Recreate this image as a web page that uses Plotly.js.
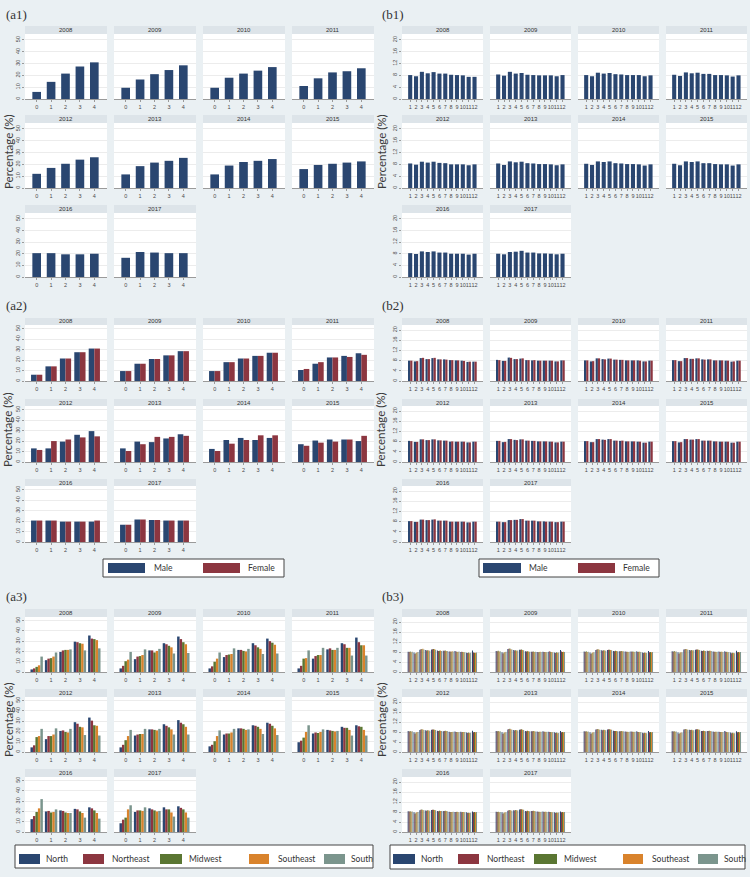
<!DOCTYPE html>
<html>
<head>
<meta charset="utf-8">
<script src="https://cdn.plot.ly/plotly-3.0.1.min.js"></script>
<style>html,body{margin:0;padding:0;background:#eaf0f3;}#chart{width:750px;height:877px;}</style>
</head>
<body>
<div id="chart"></div>
<script>
// ---------------- DATA ----------------
const years = ['2008','2009','2010','2011','2012','2013','2014','2015','2016','2017'];
const ageGroups = [0, 1, 2, 3, 4];
const months = [1,2,3,4,5,6,7,8,9,10,11,12];
const sexNames = ['Male', 'Female'];
const regionNames = ['North', 'Northeast', 'Midwest', 'Southeast', 'South'];

// (a1) total, by year, ages 0..4
const a1Total = [
  [6, 14.5, 21.5, 27.5, 31],
  [9.5, 16.5, 21, 24.5, 28.5],
  [9.5, 18, 21.5, 24, 27],
  [11, 17.5, 22.5, 23.5, 26],
  [12, 17, 20.5, 24, 26],
  [11.5, 18.5, 21.5, 23, 25.5],
  [11.5, 19, 22, 23, 24.5],
  [16, 19.5, 20.5, 21.5, 22.5],
  [20.5, 20.5, 19.5, 19.5, 20],
  [16.5, 21.5, 21, 20.5, 20.5]
];
// (a2) by sex
const a2Male = [
  [6, 14, 21.5, 27.5, 31],
  [9.5, 16.5, 21, 24.5, 28.5],
  [9.5, 18, 21.5, 24, 27],
  [10.5, 16.5, 22.5, 24, 26.5],
  [13, 13, 19.5, 26, 29.5],
  [13, 19.5, 19, 22.5, 26.5],
  [12.5, 21, 23, 21, 23],
  [17, 20.5, 21.5, 21.5, 20],
  [20.5, 20.5, 19.5, 19.5, 19.5],
  [16.5, 21.5, 21, 20.5, 20.5]
];
const a2Female = [
  [6, 14, 21.5, 27.5, 31],
  [9.5, 16.5, 21, 24.5, 28.5],
  [9.5, 18, 21.5, 24, 27],
  [11.5, 18, 22.5, 23, 25],
  [11.5, 20, 21.5, 23.5, 24.5],
  [10.5, 17, 24, 24, 25],
  [10.5, 17.5, 21, 25.5, 25.5],
  [15.5, 18.5, 19.5, 21.5, 25],
  [20.5, 20.5, 19.5, 19.5, 20.5],
  [16.5, 21.5, 21, 20.5, 20.5]
];
// (a3) by region
const a3North = [
  [2.5, 11.5, 19.5, 29.5, 35.5],
  [3.5, 12.5, 21, 28, 34.5],
  [3.5, 14.5, 21.5, 28, 32.5],
  [3.5, 13, 22, 28, 33.5],
  [4.5, 12.5, 20.5, 29, 33.5],
  [4.5, 16, 22, 27, 31],
  [5.5, 17, 23, 26, 28.5],
  [9.5, 18, 21.5, 24.5, 26],
  [12.5, 20, 21, 22.5, 24],
  [8.5, 19.5, 23, 24, 25]
];
const a3Northeast = [
  [3.5, 13, 21, 29, 32.5],
  [6, 15, 21, 27, 32],
  [5.5, 16.5, 21.5, 26, 30],
  [6, 15.5, 23, 27, 29],
  [6.5, 15.5, 21, 27.5, 30.5],
  [7, 17, 22, 25.5, 28.5],
  [7, 18, 23, 25.5, 27.5],
  [11, 19, 21, 23.5, 25],
  [15.5, 20.5, 20.5, 22, 23],
  [12, 21, 22, 22, 23.5]
];
const a3Midwest = [
  [5, 13.5, 21.5, 28, 32],
  [10.5, 15.5, 19, 25.5, 29],
  [10, 17, 20.5, 24, 28.5],
  [13, 16.5, 21.5, 23.5, 26],
  [14.5, 15.5, 19.5, 24.5, 26],
  [11.5, 17.5, 21.5, 24, 27],
  [10.5, 18, 22.5, 24.5, 25.5],
  [14, 18.5, 20.5, 23.5, 24.5],
  [19.5, 19, 19, 20, 21],
  [14, 21, 21, 22, 22]
];
const a3Southeast = [
  [6.5, 15, 21.5, 27.5, 31],
  [12, 16.5, 20.5, 24, 27],
  [13, 17.5, 20, 22.5, 26.5],
  [13.5, 16.5, 21.5, 23.5, 26],
  [15.5, 17, 19, 24, 25.5],
  [15.5, 17.5, 21, 22, 24.5],
  [15.5, 19, 21.5, 22.5, 23],
  [19.5, 19.5, 20, 21.5, 21.5],
  [23, 19.5, 18.5, 18.5, 18.5],
  [22, 20.5, 20, 19, 19]
];
const a3South = [
  [15, 19, 22, 21, 23],
  [19.5, 22, 22.5, 18, 18.5],
  [19, 23, 22.5, 17.5, 18],
  [21, 23.5, 23.5, 16, 16],
  [22.5, 23, 22.5, 16.5, 16],
  [21.5, 22.5, 22.5, 17, 17],
  [21, 22.5, 22, 17.5, 16.5],
  [26, 22, 20.5, 16, 16],
  [32, 22, 18.5, 14, 13],
  [26, 24, 20.5, 15, 14]
];

// (b1) total, by year, months 1..12
const b1Total = [
  [8.1, 7.7, 9.2, 8.7, 9.1, 8.6, 8.6, 8.2, 8.1, 8.0, 7.5, 7.5],
  [8.3, 7.9, 9.2, 8.6, 8.8, 8.2, 8.1, 8.0, 8.0, 8.0, 7.7, 8.1],
  [8.1, 7.7, 8.9, 8.6, 8.8, 8.4, 8.3, 8.1, 8.1, 8.1, 7.7, 8.0],
  [8.2, 7.8, 9.0, 8.7, 8.9, 8.5, 8.5, 8.1, 8.1, 8.0, 7.6, 8.0],
  [8.3, 7.9, 8.9, 8.6, 8.9, 8.5, 8.4, 8.0, 8.0, 8.0, 7.7, 8.0],
  [8.3, 7.8, 9.0, 8.7, 8.9, 8.4, 8.3, 8.1, 8.1, 8.0, 7.7, 8.0],
  [8.2, 7.8, 9.0, 8.8, 9.0, 8.4, 8.3, 8.1, 8.1, 8.0, 7.6, 8.0],
  [8.2, 7.7, 9.0, 8.8, 9.0, 8.4, 8.4, 8.1, 8.0, 8.0, 7.6, 8.0],
  [8.2, 7.9, 8.8, 8.6, 8.8, 8.4, 8.4, 8.0, 8.0, 8.0, 7.7, 8.0],
  [8.0, 7.8, 8.6, 8.7, 9.0, 8.4, 8.4, 8.1, 8.1, 8.0, 7.8, 8.0]
];
// (b2) by sex
const b2Male = [
  [8.0, 7.7, 9.0, 8.6, 9.0, 8.5, 8.5, 8.2, 8.1, 8.0, 7.5, 7.6],
  [8.3, 7.9, 9.2, 8.6, 8.8, 8.2, 8.1, 8.0, 8.0, 8.0, 7.7, 8.1],
  [8.1, 7.7, 8.9, 8.6, 8.8, 8.4, 8.3, 8.1, 8.1, 8.1, 7.7, 8.0],
  [8.2, 7.8, 9.0, 8.7, 8.9, 8.5, 8.5, 8.1, 8.1, 8.0, 7.6, 8.0],
  [8.3, 7.9, 8.9, 8.6, 8.9, 8.5, 8.4, 8.0, 8.0, 8.0, 7.7, 8.0],
  [8.3, 7.8, 9.0, 8.7, 8.9, 8.4, 8.3, 8.1, 8.1, 8.0, 7.7, 8.0],
  [8.2, 7.8, 9.0, 8.8, 9.0, 8.4, 8.3, 8.1, 8.1, 8.0, 7.6, 8.0],
  [8.2, 7.7, 9.0, 8.8, 9.0, 8.4, 8.4, 8.1, 8.0, 8.0, 7.6, 8.0],
  [8.2, 7.9, 8.8, 8.6, 8.8, 8.4, 8.4, 8.0, 8.0, 8.0, 7.7, 8.0],
  [8.0, 7.8, 8.6, 8.7, 9.0, 8.4, 8.4, 8.1, 8.1, 8.0, 7.8, 8.0]
];
const b2Female = [
  [8.0, 7.8, 9.1, 8.6, 9.1, 8.5, 8.4, 8.2, 8.1, 7.9, 7.6, 7.6],
  [8.2, 7.9, 9.1, 8.6, 8.9, 8.2, 8.2, 8.0, 8.0, 8.0, 7.7, 8.1],
  [8.1, 7.8, 8.9, 8.5, 8.8, 8.4, 8.3, 8.1, 8.1, 8.0, 7.7, 8.0],
  [8.2, 7.8, 9.0, 8.7, 8.9, 8.4, 8.5, 8.1, 8.1, 8.0, 7.7, 8.0],
  [8.2, 7.9, 8.9, 8.6, 8.9, 8.5, 8.4, 8.1, 8.0, 8.0, 7.7, 8.0],
  [8.3, 7.9, 9.0, 8.6, 8.9, 8.4, 8.3, 8.1, 8.1, 8.0, 7.7, 8.0],
  [8.2, 7.8, 9.0, 8.7, 9.0, 8.4, 8.4, 8.1, 8.1, 8.0, 7.6, 8.0],
  [8.2, 7.8, 9.0, 8.8, 9.0, 8.4, 8.4, 8.1, 8.0, 8.0, 7.6, 8.0],
  [8.2, 7.9, 8.8, 8.6, 8.9, 8.4, 8.4, 8.0, 8.0, 8.0, 7.7, 8.0],
  [8.0, 7.8, 8.6, 8.7, 9.0, 8.4, 8.4, 8.1, 8.0, 8.0, 7.8, 8.0]
];
// (b3) by region
const b3North = [
  [8.1, 7.8, 8.9, 8.8, 9.0, 8.6, 8.5, 8.2, 8.4, 8.0, 7.7, 8.6],
  [8.4, 7.9, 9.2, 8.8, 8.9, 8.3, 8.1, 8.0, 8.1, 8.1, 7.8, 8.8],
  [8.2, 7.8, 8.8, 8.7, 8.8, 8.4, 8.3, 8.2, 8.2, 8.3, 7.8, 8.4],
  [8.3, 7.9, 9.0, 8.8, 8.9, 8.5, 8.5, 8.2, 8.2, 8.3, 7.8, 8.5],
  [8.4, 7.9, 8.8, 8.7, 8.9, 8.5, 8.3, 8.1, 8.2, 8.1, 7.8, 8.5],
  [8.4, 7.9, 9.0, 8.8, 8.9, 8.4, 8.3, 8.2, 8.3, 8.1, 7.9, 8.4],
  [8.3, 7.9, 9.0, 8.9, 9.0, 8.5, 8.3, 8.2, 8.2, 8.3, 7.7, 8.4],
  [8.3, 7.8, 9.0, 8.9, 9.0, 8.4, 8.4, 8.2, 8.1, 8.4, 7.8, 8.3],
  [8.3, 7.9, 8.7, 8.6, 8.8, 8.4, 8.4, 8.1, 8.0, 8.1, 7.9, 8.2],
  [8.1, 7.9, 8.5, 8.7, 9.0, 8.4, 8.4, 8.2, 8.2, 8.1, 7.9, 8.2]
];
const b3Northeast = [
  [8.0, 7.2, 9.1, 8.6, 9.1, 8.4, 8.5, 8.2, 8.2, 8.1, 7.6, 7.8],
  [8.3, 7.4, 9.3, 8.6, 8.9, 8.2, 8.1, 7.9, 8.0, 8.3, 7.6, 8.2],
  [8.0, 7.2, 9.0, 8.5, 8.9, 8.3, 8.3, 8.1, 8.1, 8.0, 7.6, 7.9],
  [8.1, 7.3, 9.1, 8.6, 9.0, 8.4, 8.4, 8.1, 8.0, 8.0, 7.5, 7.9],
  [8.2, 7.3, 9.0, 8.5, 9.0, 8.4, 8.4, 7.9, 8.0, 7.9, 7.6, 7.9],
  [8.3, 7.2, 9.2, 8.6, 9.0, 8.3, 8.3, 8.0, 8.1, 8.0, 7.6, 7.9],
  [8.2, 7.2, 9.1, 8.7, 9.1, 8.4, 8.3, 8.1, 8.1, 8.0, 7.5, 7.9],
  [8.2, 7.2, 9.1, 8.8, 9.1, 8.4, 8.4, 8.0, 8.0, 8.1, 7.5, 7.9],
  [8.2, 7.3, 8.9, 8.5, 8.9, 8.3, 8.4, 8.0, 8.0, 7.9, 7.6, 7.9],
  [8.0, 7.3, 8.7, 8.6, 9.1, 8.3, 8.4, 8.1, 8.0, 8.0, 7.6, 7.9]
];
const b3Midwest = [
  [8.2, 7.6, 9.2, 8.7, 9.2, 8.5, 8.6, 8.1, 8.1, 8.0, 7.8, 7.7],
  [8.5, 7.8, 9.4, 8.7, 9.0, 8.3, 8.2, 8.0, 8.0, 8.0, 7.9, 8.0],
  [8.3, 7.6, 9.1, 8.7, 8.9, 8.5, 8.4, 8.1, 8.2, 8.1, 7.8, 8.0],
  [8.4, 7.8, 9.2, 8.8, 9.0, 8.6, 8.5, 8.1, 8.1, 8.1, 7.7, 8.0],
  [8.4, 7.8, 9.1, 8.7, 9.0, 8.6, 8.5, 8.0, 8.0, 8.0, 7.8, 8.0],
  [8.4, 7.7, 9.3, 8.8, 9.1, 8.5, 8.4, 8.1, 8.1, 8.0, 7.8, 8.0],
  [8.3, 7.7, 9.2, 8.9, 9.1, 8.4, 8.4, 8.1, 8.1, 8.0, 7.7, 8.0],
  [8.3, 7.6, 9.2, 8.9, 9.1, 8.5, 8.5, 8.1, 8.0, 8.0, 7.7, 8.0],
  [8.3, 7.7, 9.0, 8.7, 8.9, 8.5, 8.5, 8.0, 8.1, 8.0, 7.7, 8.0],
  [8.1, 7.7, 8.8, 8.8, 9.1, 8.5, 8.5, 8.1, 8.1, 8.0, 7.8, 8.0]
];
const b3Southeast = [
  [7.9, 7.9, 9.3, 8.6, 9.1, 8.6, 8.4, 8.3, 8.0, 7.9, 7.5, 7.7],
  [8.2, 8.0, 9.1, 8.5, 8.8, 8.2, 8.0, 8.1, 7.9, 8.0, 7.7, 8.1],
  [8.0, 7.9, 9.0, 8.6, 8.8, 8.4, 8.3, 8.0, 8.0, 8.1, 7.7, 7.9],
  [8.1, 7.9, 9.1, 8.6, 8.9, 8.5, 8.5, 8.0, 8.1, 7.9, 7.6, 7.9],
  [8.2, 8.0, 9.0, 8.6, 8.9, 8.5, 8.4, 8.0, 7.9, 8.0, 7.6, 7.9],
  [8.2, 7.9, 9.1, 8.7, 8.9, 8.4, 8.3, 8.1, 8.0, 7.9, 7.5, 7.9],
  [8.1, 7.9, 9.0, 8.8, 9.0, 8.4, 8.3, 8.0, 8.0, 7.9, 7.6, 7.9],
  [8.1, 7.8, 9.0, 8.7, 9.0, 8.4, 8.4, 8.1, 8.0, 7.9, 7.5, 7.9],
  [8.1, 8.0, 8.8, 8.6, 8.8, 8.4, 8.4, 8.0, 8.0, 8.0, 7.6, 7.9],
  [7.9, 7.9, 8.6, 8.7, 9.0, 8.4, 8.4, 8.0, 8.1, 7.9, 7.7, 7.9]
];
const b3South = [
  [8.1, 8.0, 9.0, 8.5, 8.9, 8.4, 8.4, 8.2, 8.2, 7.9, 7.7, 7.8],
  [8.3, 8.1, 9.0, 8.6, 8.7, 8.1, 8.1, 8.0, 8.0, 7.9, 7.8, 8.0],
  [8.1, 7.9, 8.8, 8.5, 8.7, 8.3, 8.3, 8.1, 8.1, 8.0, 7.6, 8.0],
  [8.2, 7.9, 8.9, 8.7, 8.8, 8.4, 8.4, 8.1, 8.0, 8.0, 7.5, 8.0],
  [8.3, 8.0, 8.8, 8.5, 8.8, 8.4, 8.4, 8.1, 8.0, 8.0, 7.7, 8.0],
  [8.3, 7.9, 8.9, 8.6, 8.8, 8.3, 8.2, 8.1, 8.1, 8.0, 7.6, 8.0],
  [8.2, 7.9, 8.9, 8.7, 8.9, 8.3, 8.3, 8.1, 8.1, 8.0, 7.5, 8.0],
  [8.2, 7.8, 8.9, 8.7, 8.9, 8.3, 8.3, 8.1, 8.0, 7.9, 7.5, 8.0],
  [8.2, 8.0, 8.7, 8.5, 8.7, 8.4, 8.3, 8.1, 7.9, 7.9, 7.7, 8.0],
  [8.0, 7.9, 8.5, 8.6, 8.9, 8.3, 8.3, 8.1, 8.0, 7.9, 7.8, 8.0]
];

// ---------------- STYLE / LAYOUT ----------------
const W = 750, H = 877;
const px = v => v / W;
const py = v => 1 - v / H;
const navy = '#2a4670', maroon = '#8c3640', green = '#5a7632', orange = '#d9832c', teal = '#7b958d';
const sexColors = [navy, maroon];
const regionColors = [navy, maroon, green, orange, teal];
const tickFont = {family: 'Liberation Sans, Arial, sans-serif', size: 5.5, color: '#4a4a4a'};
const textFont = 'Lato, "Open Sans", sans-serif';

const bands = [
  {tops: [26, 115, 205], bottoms: [99, 188, 277], hh: 8, titleY: 152},
  {tops: [318, 399, 479], bottoms: [381, 462, 542], hh: 7, titleY: 430},
  {tops: [609, 689, 769], bottoms: [672, 752, 832], hh: 8, titleY: 720}
];
const sides = [
  {lefts: [25, 114, 203, 292], w: 82, labelX: 4, titleX: 8},
  {lefts: [402, 490, 578, 666], w: 81, labelX: 380, titleX: 381}
];

const panels = [
  {label: '(a1)', side: 0, band: 0, cats: ageGroups, series: [a1Total], names: ['Total'], colors: [navy], group: 0.6, xr: [-0.81, 4.88], yMax: 55, ticks: [0,10,20,30,40,50]},
  {label: '(a2)', side: 0, band: 1, cats: ageGroups, series: [a2Male, a2Female], names: sexNames, colors: sexColors, group: 0.78, xr: [-0.81, 4.88], yMax: 53.5, ticks: [0,10,20,30,40,50]},
  {label: '(a3)', side: 0, band: 2, cats: ageGroups, series: [a3North, a3Northeast, a3Midwest, a3Southeast, a3South], names: regionNames, colors: regionColors, group: 0.86, xr: [-0.81, 4.88], yMax: 53.5, ticks: [0,10,20,30,40,50]},
  {label: '(b1)', side: 1, band: 0, cats: months, series: [b1Total], names: ['Total'], colors: [navy], group: 0.7, xr: [-0.4, 13.45], yMax: 22, ticks: [0,4,8,12,16,20]},
  {label: '(b2)', side: 1, band: 1, cats: months, series: [b2Male, b2Female], names: sexNames, colors: sexColors, group: 0.76, xr: [-0.4, 13.45], yMax: 22, ticks: [0,4,8,12,16,20]},
  {label: '(b3)', side: 1, band: 2, cats: months, series: [b3North, b3Northeast, b3Midwest, b3Southeast, b3South], names: regionNames, colors: regionColors, group: 0.86, xr: [-0.4, 13.45], yMax: 22, ticks: [0,4,8,12,16,20]}
];

const traces = [];
const layout = {
  width: W, height: H, autosize: false,
  margin: {l: 0, r: 0, t: 0, b: 0, pad: 0},
  paper_bgcolor: '#eaf0f3', plot_bgcolor: '#ffffff',
  barmode: 'overlay', showlegend: false,
  shapes: [], annotations: []
};

let n = 0;
panels.forEach(p => {
  const side = sides[p.side], band = bands[p.band];
  // panel label
  layout.annotations.push({text: p.label, xref: 'paper', yref: 'paper', x: px(side.labelX), y: py(band.tops[0] - 11 - (p.band === 0 ? 0 : 2)),
    xanchor: 'left', yanchor: 'middle', showarrow: false, font: {family: 'Liberation Serif, serif', size: 13, color: '#333'}});
  // y title
  layout.annotations.push({text: 'Percentage (%)', xref: 'paper', yref: 'paper', x: px(side.titleX), y: py(band.titleY),
    xanchor: 'center', yanchor: 'middle', textangle: -90, showarrow: false, font: {family: textFont, size: 11.5, color: '#3a3a3a'}});

  years.forEach((yr, i) => {
    n++;
    const row = Math.floor(i / 4), col = i % 4;
    const left = side.lefts[col], top = band.tops[row], bottom = band.bottoms[row];
    const xa = 'xaxis' + (n === 1 ? '' : n), ya = 'yaxis' + (n === 1 ? '' : n);
    const xr = 'x' + (n === 1 ? '' : n), yr2 = 'y' + (n === 1 ? '' : n);
    layout[xa] = {
      domain: [px(left), px(left + side.w)], anchor: yr2, range: p.xr,
      tickmode: 'array', tickvals: p.cats, ticktext: p.cats.map(String), tickangle: 0,
      showline: true, linecolor: '#9a9a9a', linewidth: 1, ticks: 'outside', ticklen: 2, tickcolor: '#9a9a9a',
      tickfont: tickFont, showgrid: false, zeroline: false, fixedrange: true
    };
    layout[ya] = {
      domain: [py(bottom), py(top + band.hh)], anchor: xr, range: [0, p.yMax],
      tickmode: 'array', tickvals: p.ticks, ticktext: p.ticks.map(String), tickangle: -90,
      showticklabels: col === 0, ticks: col === 0 ? 'outside' : '', ticklen: 2, tickcolor: '#9a9a9a',
      tickfont: tickFont, showgrid: true, gridcolor: '#ececec', gridwidth: 1,
      showline: false, zeroline: false, fixedrange: true
    };
    // header strip
    layout.shapes.push({type: 'rect', xref: 'paper', yref: 'paper', x0: px(left), x1: px(left + side.w),
      y0: py(top + band.hh), y1: py(top), fillcolor: '#dde4e9', line: {width: 0}, layer: 'below'});
    layout.annotations.push({text: yr, xref: 'paper', yref: 'paper', x: px(left + side.w / 2), y: py(top + band.hh / 2),
      xanchor: 'center', yanchor: 'middle', showarrow: false, font: {family: 'Liberation Sans, Arial, sans-serif', size: 6, color: '#333'}});
    // bars
    const k = p.series.length, bw = p.group / k;
    p.series.forEach((s, j) => {
      traces.push({
        type: 'bar', x: p.cats, y: s[i], name: p.names[j], xaxis: xr, yaxis: yr2,
        width: bw, offset: -p.group / 2 + j * bw,
        marker: {color: p.colors[j], line: {width: 0}}, hoverinfo: 'x+y+name'
      });
    });
  });
});

// legends (boxes drawn with shapes, labels as annotations)
function addLegend(box, items) {
  layout.shapes.push({type: 'rect', xref: 'paper', yref: 'paper', x0: px(box[0]), x1: px(box[1]), y0: py(box[3]), y1: py(box[2]),
    fillcolor: '#ffffff', line: {color: '#444', width: 1}});
  items.forEach(it => {
    layout.shapes.push({type: 'rect', xref: 'paper', yref: 'paper', x0: px(it.s0), x1: px(it.s1), y0: py(it.y1), y1: py(it.y0),
      fillcolor: it.color, line: {width: 0}});
    layout.annotations.push({text: it.text, xref: 'paper', yref: 'paper', x: px(it.tx), y: py((it.y0 + it.y1) / 2),
      xanchor: 'left', yanchor: 'middle', showarrow: false, font: {family: textFont, size: 8.5, color: '#333'}});
  });
}
addLegend([103, 284, 559, 577], [
  {s0: 108, s1: 145, y0: 563, y1: 573, tx: 152, text: sexNames[0], color: sexColors[0]},
  {s0: 203, s1: 240, y0: 563, y1: 573, tx: 246, text: sexNames[1], color: sexColors[1]}
]);
addLegend([479, 659, 559, 577], [
  {s0: 483, s1: 521, y0: 563, y1: 573, tx: 527, text: sexNames[0], color: sexColors[0]},
  {s0: 578, s1: 615, y0: 563, y1: 573, tx: 621, text: sexNames[1], color: sexColors[1]}
]);
addLegend([15, 373, 845, 868], [
  {s0: 19, s1: 40, y0: 854, y1: 864, tx: 44, text: regionNames[0], color: regionColors[0]},
  {s0: 83, s1: 104, y0: 854, y1: 864, tx: 110, text: regionNames[1], color: regionColors[1]},
  {s0: 160, s1: 182, y0: 854, y1: 864, tx: 187, text: regionNames[2], color: regionColors[2]},
  {s0: 249, s1: 269, y0: 854, y1: 864, tx: 276, text: regionNames[3], color: regionColors[3]},
  {s0: 324, s1: 345, y0: 854, y1: 864, tx: 349, text: regionNames[4], color: regionColors[4]}
]);
addLegend([390, 745, 845, 869], [
  {s0: 393, s1: 415, y0: 854, y1: 864, tx: 419, text: regionNames[0], color: regionColors[0]},
  {s0: 458, s1: 479, y0: 854, y1: 864, tx: 485, text: regionNames[1], color: regionColors[1]},
  {s0: 534, s1: 557, y0: 854, y1: 864, tx: 562, text: regionNames[2], color: regionColors[2]},
  {s0: 623, s1: 643, y0: 854, y1: 864, tx: 650, text: regionNames[3], color: regionColors[3]},
  {s0: 698, s1: 718, y0: 854, y1: 864, tx: 722, text: regionNames[4], color: regionColors[4]}
]);

Plotly.newPlot('chart', traces, layout, {displayModeBar: false, staticPlot: true});
</script>
</body>
</html>
